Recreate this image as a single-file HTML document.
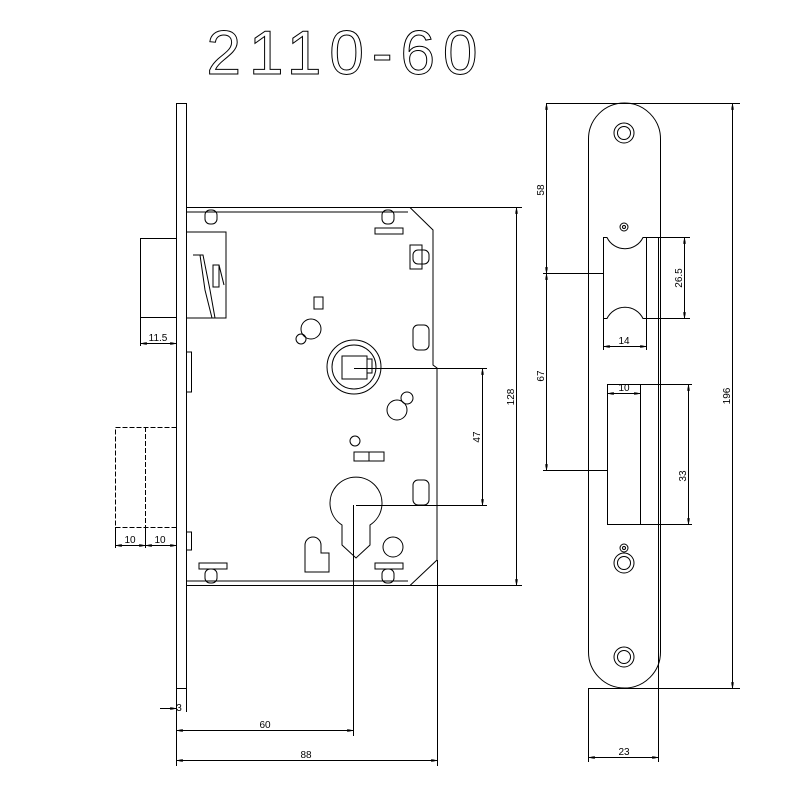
<!DOCTYPE html>
<html><head><meta charset="utf-8"><style>
html,body{margin:0;padding:0;background:#fff;}
svg{display:block;}
text{font-family:"Liberation Sans",sans-serif;font-size:10px;fill:#000;}
</style></head><body>
<svg width="807" height="802" viewBox="0 0 807 802" xmlns="http://www.w3.org/2000/svg">
<defs>
<marker id="a" viewBox="0 0 10 10" refX="10" refY="5" markerWidth="8" markerHeight="6" orient="auto-start-reverse"><path d="M0,3 L10,5 L0,7" fill="none" stroke="#000"/></marker>
</defs>
<text x="346" y="74" text-anchor="middle" style="font-size:62px;fill:none;stroke:#000;stroke-width:1;letter-spacing:8px;font-weight:100">2110-60</text>
<g fill="none" stroke="#000" stroke-width="1">
<!-- faceplate -->
<rect x="176.5" y="103.5" width="10" height="585"/>
<!-- latch -->
<rect x="140.5" y="238.5" width="36" height="79"/>
<!-- deadbolt dashed -->
<rect x="115.5" y="427.5" width="61" height="100" stroke-dasharray="5,2"/>
<line x1="145.5" y1="427" x2="145.5" y2="527" stroke-dasharray="5,2"/>
<!-- body -->
<path d="M186.5,207.5 H410 L433,230 V365 L437,368 V560 L410,585.5 H186.5"/>
<path d="M186.5,212 H408" />
<path d="M186.5,581 H408" />
<path d="M186.5,232 H226 V318 H186.5"/>
<path d="M193,255 L203,255 L210,290 L215,318 M200,255 L205,290 L212,318"/>
<rect x="213" y="265" width="6" height="22"/><path d="M219,265 L224,285"/>
<rect x="205" y="210" width="12" height="14" rx="5"/><rect x="382" y="210" width="12" height="14" rx="5"/>
<rect x="375" y="228" width="28" height="6"/>
<rect x="410" y="245" width="12" height="24"/><rect x="413" y="250" width="16" height="14" rx="5"/>
<rect x="413" y="325" width="16" height="25" rx="5"/><rect x="413" y="480" width="16" height="25" rx="5"/>
<rect x="199" y="563" width="28" height="6"/><rect x="205" y="569" width="12" height="14" rx="5"/>
<rect x="375" y="563" width="28" height="6"/><rect x="382" y="569" width="12" height="14" rx="5"/>
<rect x="186.5" y="352" width="5" height="40"/><rect x="186.5" y="532" width="5" height="18"/>
<rect x="314" y="297" width="9" height="12"/>
<circle cx="311" cy="329" r="10"/><circle cx="301" cy="339" r="5"/>
<circle cx="354" cy="367" r="27"/><circle cx="354" cy="367" r="22"/>
<rect x="342" y="356" width="25" height="23"/><rect x="367" y="359" width="5" height="14"/>
<circle cx="397" cy="410" r="10"/><circle cx="407" cy="398" r="6"/>
<circle cx="355" cy="441" r="5"/><rect x="354" y="452" width="30" height="9"/><line x1="369" y1="452" x2="369" y2="461"/>
<path d="M342,525 A26,26 0 1 1 370,525 V545 L356,558 L342,545 Z"/>
<path d="M305,553 V545 A8,8 0 0 1 321,545 V553 H329 V572 H305 Z"/>
<circle cx="393" cy="547" r="10"/>
<!-- dimension lines -->
<line x1="176.5" y1="688" x2="176.5" y2="766"/>
<line x1="353.5" y1="505" x2="353.5" y2="736"/>
<line x1="437.5" y1="560" x2="437.5" y2="766"/>
<line x1="140.5" y1="317" x2="140.5" y2="346"/>
<line x1="141" y1="343.5" x2="176" y2="343.5" marker-start="url(#a)" marker-end="url(#a)"/>
<line x1="115.5" y1="527" x2="115.5" y2="548"/><line x1="145.5" y1="527" x2="145.5" y2="548"/>
<line x1="116" y1="545.5" x2="145" y2="545.5" marker-start="url(#a)" marker-end="url(#a)"/>
<line x1="146" y1="545.5" x2="176" y2="545.5" marker-start="url(#a)" marker-end="url(#a)"/>
<line x1="186.5" y1="688" x2="186.5" y2="712"/>
<line x1="160" y1="708.5" x2="176" y2="708.5" marker-end="url(#a)"/>
<line x1="177" y1="730.5" x2="353" y2="730.5" marker-start="url(#a)" marker-end="url(#a)"/>
<line x1="177" y1="760.5" x2="437" y2="760.5" marker-start="url(#a)" marker-end="url(#a)"/>
<line x1="410" y1="207.5" x2="522" y2="207.5"/><line x1="410" y1="585.5" x2="522" y2="585.5"/>
<line x1="516.5" y1="208" x2="516.5" y2="585" marker-start="url(#a)" marker-end="url(#a)"/>
<line x1="354" y1="368.5" x2="487" y2="368.5"/><line x1="356" y1="505.5" x2="487" y2="505.5"/>
<line x1="482.5" y1="369" x2="482.5" y2="505" marker-start="url(#a)" marker-end="url(#a)"/>
<!-- strike plate -->
<path d="M588.5,139 A36,36 0 0 1 660.5,139 V652 A36,36 0 0 1 588.5,652 Z"/>
<circle cx="624" cy="133" r="10"/><circle cx="624" cy="133" r="6.5"/>
<circle cx="624" cy="657" r="10"/><circle cx="624" cy="657" r="6.5"/>
<circle cx="624" cy="563" r="10"/><circle cx="624" cy="563" r="6.5"/>
<circle cx="624" cy="227" r="4"/><circle cx="624" cy="227" r="1.5"/>
<circle cx="624" cy="548" r="4"/><circle cx="624" cy="548" r="1.5"/>
<path d="M603.5,237.5 H607 A20,20 0 0 0 643,237.5 H646.5 V318.5 H643 A20,20 0 0 0 607,318.5 H603.5 Z"/>
<rect x="607.5" y="384.5" width="33" height="140"/>
<line x1="546" y1="103.5" x2="740" y2="103.5"/><line x1="588" y1="688.5" x2="740" y2="688.5"/>
<line x1="546.5" y1="104" x2="546.5" y2="273" marker-start="url(#a)" marker-end="url(#a)"/>
<line x1="546.5" y1="274" x2="546.5" y2="470" marker-start="url(#a)" marker-end="url(#a)"/>
<line x1="543" y1="273.5" x2="603" y2="273.5"/><line x1="543" y1="470.5" x2="607" y2="470.5"/>
<line x1="646" y1="237.5" x2="690" y2="237.5"/><line x1="646" y1="318.5" x2="690" y2="318.5"/>
<line x1="684.5" y1="238" x2="684.5" y2="318" marker-start="url(#a)" marker-end="url(#a)"/>
<line x1="603.5" y1="318" x2="603.5" y2="350"/><line x1="646.5" y1="318" x2="646.5" y2="350"/>
<line x1="604" y1="346.5" x2="646" y2="346.5" marker-start="url(#a)" marker-end="url(#a)"/>
<line x1="607.5" y1="388" x2="607.5" y2="384"/><line x1="640.5" y1="384" x2="640.5" y2="390"/>
<line x1="608" y1="393.5" x2="640" y2="393.5" marker-start="url(#a)" marker-end="url(#a)"/>
<line x1="640" y1="384.5" x2="692" y2="384.5"/><line x1="640" y1="524.5" x2="692" y2="524.5"/>
<line x1="688.5" y1="385" x2="688.5" y2="524" marker-start="url(#a)" marker-end="url(#a)"/>
<line x1="732.5" y1="104" x2="732.5" y2="688" marker-start="url(#a)" marker-end="url(#a)"/>
<line x1="588.5" y1="688" x2="588.5" y2="762"/><line x1="658.5" y1="237" x2="658.5" y2="762"/>
<line x1="589" y1="757.5" x2="658" y2="757.5" marker-start="url(#a)" marker-end="url(#a)"/>
</g>
<text x="158" y="341" text-anchor="middle">11.5</text>
<text x="130" y="543" text-anchor="middle">10</text>
<text x="160" y="543" text-anchor="middle">10</text>
<text x="179" y="711" text-anchor="middle">3</text>
<text x="265" y="728" text-anchor="middle">60</text>
<text x="306" y="758" text-anchor="middle">88</text>
<text x="624" y="755" text-anchor="middle">23</text>
<text x="624" y="344" text-anchor="middle">14</text>
<text x="624" y="391" text-anchor="middle">10</text>
<text transform="translate(514,397) rotate(-90)" text-anchor="middle">128</text>
<text transform="translate(480,437) rotate(-90)" text-anchor="middle">47</text>
<text transform="translate(544,190) rotate(-90)" text-anchor="middle">58</text>
<text transform="translate(544,376) rotate(-90)" text-anchor="middle">67</text>
<text transform="translate(682,278) rotate(-90)" text-anchor="middle">26.5</text>
<text transform="translate(686,476) rotate(-90)" text-anchor="middle">33</text>
<text transform="translate(730,396) rotate(-90)" text-anchor="middle">196</text>
</svg>
</body></html>
